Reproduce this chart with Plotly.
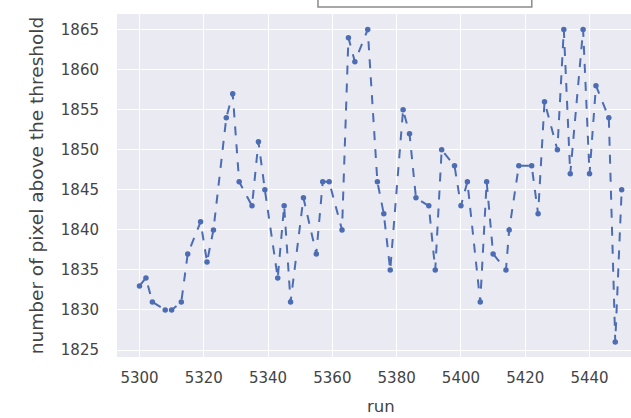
import plotly.graph_objects as go

# run number and count of pixels above the threshold for each run
runs = [5300, 5302, 5304, 5308, 5310, 5313, 5315, 5319, 5321, 5323,
        5327, 5329, 5331, 5335, 5337, 5339, 5343, 5345, 5347, 5351,
        5355, 5357, 5359, 5363, 5365, 5367, 5371, 5374, 5376, 5378,
        5382, 5384, 5386, 5390, 5392, 5394, 5398, 5400, 5402, 5406,
        5408, 5410, 5414, 5415, 5418, 5422, 5424, 5426, 5430, 5432,
        5434, 5438, 5440, 5442, 5446, 5448, 5450]
pixels = [1833, 1834, 1831, 1830, 1830, 1831, 1837, 1841, 1836, 1840,
          1854, 1857, 1846, 1843, 1851, 1845, 1834, 1843, 1831, 1844,
          1837, 1846, 1846, 1840, 1864, 1861, 1865, 1846, 1842, 1835,
          1855, 1852, 1844, 1843, 1835, 1850, 1848, 1843, 1846, 1831,
          1846, 1837, 1835, 1840, 1848, 1848, 1842, 1856, 1850, 1865,
          1847, 1865, 1847, 1858, 1854, 1826, 1845]

x_ticks = [5300, 5320, 5340, 5360, 5380, 5400, 5420, 5440]
y_ticks = [1825, 1830, 1835, 1840, 1845, 1850, 1855, 1860, 1865]

line_color = "#4C6DB3"
text_color = "#444444"
font_family = "DejaVu Sans"

fig = go.Figure()
fig.add_trace(go.Scatter(
    x=runs, y=pixels,
    mode="lines+markers",
    line=dict(color=line_color, width=2, dash="dash"),
    marker=dict(color=line_color, size=5.5),
    showlegend=False,
))

# empty legend frame sitting above the axes
fig.add_shape(type="rect", xref="paper", yref="paper",
              x0=0.391, x1=0.807, y0=1.0204, y1=1.2,
              line=dict(color="#8a8a8a", width=1.5), fillcolor="white",
              layer="above")

fig.add_annotation(text="run", xref="paper", yref="paper",
                   x=0.514, y=-0.112, xanchor="center", yanchor="top",
                   showarrow=False,
                   font=dict(family=font_family, size=16.5, color=text_color))

fig.update_layout(
    width=631, height=418,
    margin=dict(l=117, r=0, t=14, b=61),
    paper_bgcolor="white",
    plot_bgcolor="#EAEAF2",
    font=dict(family=font_family, size=15, color=text_color),
    xaxis=dict(
        range=[5293.0, 5452.9],
        tickmode="array", tickvals=x_ticks,
        ticktext=[str(v) for v in x_ticks],
        showgrid=True, gridcolor="white", gridwidth=1.4,
        zeroline=False, showline=False,
        ticks="", ticklabelstandoff=10,
    ),
    yaxis=dict(
        range=[1824.13, 1866.95],
        tickmode="array", tickvals=y_ticks,
        ticktext=[str(v) for v in y_ticks],
        showgrid=True, gridcolor="white", gridwidth=1.4,
        zeroline=False, showline=False,
        ticks="", ticklabelstandoff=17,
        title=dict(text="number of pixel above the threshold",
                   font=dict(family=font_family, size=18.5, color=text_color),
                   standoff=12),
    ),
)

fig.write_html("out.html")
